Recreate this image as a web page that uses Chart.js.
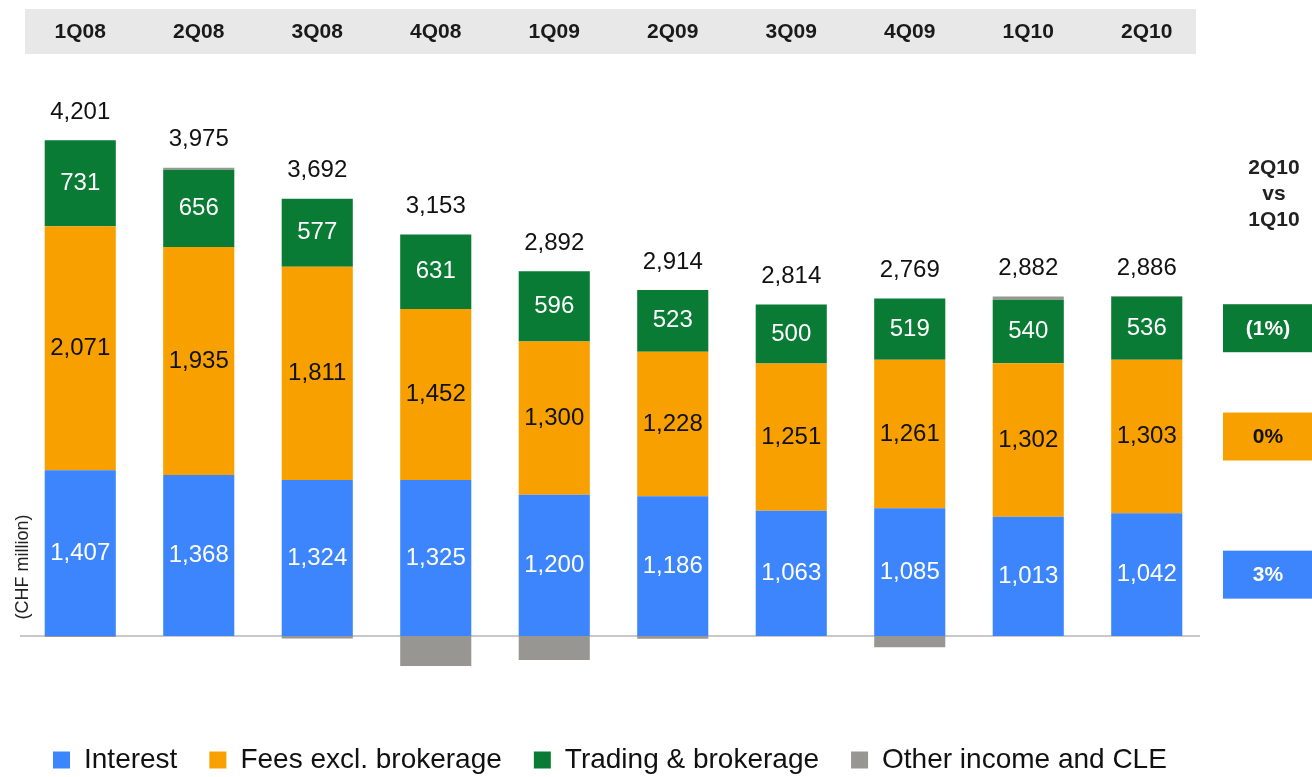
<!DOCTYPE html>
<html>
<head>
<meta charset="utf-8">
<script src="https://cdn.jsdelivr.net/npm/chart.js@4/dist/chart.umd.min.js"></script>
<style>
  html, body { margin: 0; padding: 0; background: #ffffff; }
  #wrap { width: 1312px; height: 777px; position: relative; }
</style>
</head>
<body>
<div id="wrap"><canvas id="c" width="1312" height="777"></canvas></div>
<script>
const categories = ['1Q08','2Q08','3Q08','4Q08','1Q09','2Q09','3Q09','4Q09','1Q10','2Q10'];
const interest = [1407,1368,1324,1325,1200,1186,1063,1085,1013,1042];
const fees     = [2071,1935,1811,1452,1300,1228,1251,1261,1302,1303];
const trading  = [731,656,577,631,596,523,500,519,540,536];
const other    = [-8,16,-20,-255,-204,-23,0,-96,27,5];
const totals   = [4201,3975,3692,3153,2892,2914,2814,2769,2882,2886];
const seriesNames = ['Interest','Fees excl. brokerage','Trading & brokerage','Other income and CLE'];
const changeTitle = ['2Q10','vs','1Q10'];
const changes = ['3%','0%','(1%)']; // interest, fees, trading

const COLORS = ['#3d85fd', '#f7a000', '#097b35', '#979692'];
const FONT = '"Liberation Sans", Arial, sans-serif';
const fmt = v => v.toLocaleString('en-US');

const decor = {
  id: 'decor',
  beforeDatasetsDraw(chart) {
    const {ctx, scales: {x, y}} = chart;
    ctx.save();
    // header band
    ctx.fillStyle = '#e8e8e8';
    ctx.fillRect(25, 9, 1171, 45);
    ctx.fillStyle = '#1a1a1a';
    ctx.font = 'bold 21px ' + FONT;
    ctx.textAlign = 'center';
    ctx.textBaseline = 'middle';
    categories.forEach((c, i) => ctx.fillText(c, x.getPixelForValue(i), 32));
    // baseline
    const y0 = y.getPixelForValue(0);
    ctx.strokeStyle = '#c9c9c9';
    ctx.lineWidth = 2;
    ctx.beginPath();
    ctx.moveTo(20, y0);
    ctx.lineTo(1200, y0);
    ctx.stroke();
    // axis title
    ctx.translate(23, 567);
    ctx.rotate(-Math.PI / 2);
    ctx.fillStyle = '#222';
    ctx.font = '18px ' + FONT;
    ctx.fillText('(CHF million)', 0, 0);
    ctx.restore();
  },
  afterDatasetsDraw(chart) {
    const {ctx, scales: {x, y}} = chart;
    ctx.save();
    ctx.textAlign = 'center';
    ctx.textBaseline = 'middle';
    ctx.font = '24px ' + FONT;
    const series = [interest, fees, trading];
    const labelColors = ['#ffffff', '#111111', '#ffffff'];
    for (let d = 0; d < 3; d++) {
      const meta = chart.getDatasetMeta(d);
      meta.data.forEach((el, i) => {
        ctx.fillStyle = labelColors[d];
        ctx.fillText(fmt(series[d][i]), el.x, (el.y + el.base) / 2);
      });
    }
    // totals
    ctx.fillStyle = '#111111';
    categories.forEach((c, i) => {
      const posTop = interest[i] + fees[i] + trading[i] + Math.max(other[i], 0);
      ctx.fillText(fmt(totals[i]), x.getPixelForValue(i), y.getPixelForValue(posTop) - 28);
    });
    // right panel
    ctx.font = 'bold 21px ' + FONT;
    ctx.fillStyle = '#222222';
    changeTitle.forEach((t, k) => ctx.fillText(t, 1274, 168 + k * 26));
    const last = categories.length - 1;
    const txtColors = ['#ffffff', '#111111', '#ffffff'];
    for (let d = 0; d < 3; d++) {
      const el = chart.getDatasetMeta(d).data[last];
      const cy = (el.y + el.base) / 2;
      ctx.fillStyle = COLORS[d];
      ctx.fillRect(1223, cy - 24, 92, 48);
      ctx.fillStyle = txtColors[d];
      ctx.fillText(changes[d], 1268, cy + 1);
    }
    ctx.restore();
  }
};

new Chart(document.getElementById('c'), {
  type: 'bar',
  data: {
    labels: categories,
    datasets: [
      { label: seriesNames[0], data: interest, backgroundColor: COLORS[0] },
      { label: seriesNames[1], data: fees, backgroundColor: COLORS[1] },
      { label: seriesNames[2], data: trading, backgroundColor: COLORS[2] },
      { label: seriesNames[3], data: other, backgroundColor: COLORS[3] }
    ]
  },
  options: {
    responsive: false,
    animation: false,
    layout: { padding: { top: 60, left: 21, right: 106, bottom: -7 } },
    datasets: { bar: { categoryPercentage: 1.0, barPercentage: 0.6 } },
    scales: {
      x: { stacked: true, display: false },
      y: { stacked: true, display: false, min: -662, max: 4890 }
    },
    plugins: {
      tooltip: { enabled: false },
      legend: {
        position: 'bottom',
        align: 'start',
        labels: {
          boxWidth: 17, boxHeight: 17, padding: 32,
          color: '#111', font: { family: FONT, size: 28 }
        }
      }
    }
  },
  plugins: [decor]
});
</script>
</body>
</html>
